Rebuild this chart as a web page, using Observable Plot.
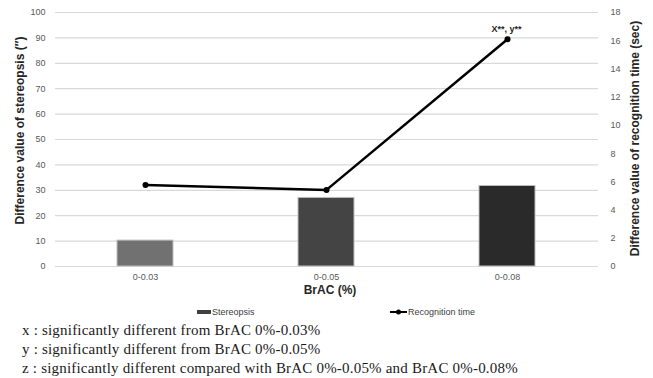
<!DOCTYPE html>
<html>
<head>
<meta charset="utf-8">
<script src="https://cdn.jsdelivr.net/npm/d3@7"></script>
<script src="https://cdn.jsdelivr.net/npm/@observablehq/plot@0.6"></script>
<style>
  body { margin: 0; background: #fff; }
  #wrap { position: relative; width: 653px; height: 378px; background: #fff; overflow: hidden; }
  #chart { position: absolute; left: 0; top: 0; }
  .leg { position: absolute; font-family: "Liberation Sans", Arial, sans-serif; font-size: 9px; color: #404040; line-height: 1; white-space: nowrap; }
  .note { position: absolute; left: 22px; font-family: "Liberation Serif", "DejaVu Serif", serif; font-size: 15px; letter-spacing: 0.2px; color: #1a1a1a; white-space: nowrap; line-height: 1; }
</style>
</head>
<body>
<div id="wrap">
  <div id="chart"></div>
  <div class="leg" style="left:197px; top:307px;">
    <svg width="15" height="9" style="vertical-align:top"><rect x="0" y="3" width="14" height="4" fill="#404040"></rect></svg><span id="leg1" style="position:relative; top:1px;"></span>
  </div>
  <div class="leg" style="left:390px; top:307px;">
    <svg width="18" height="9" style="vertical-align:top"><line x1="0" y1="5" x2="17" y2="5" stroke="#000" stroke-width="2"></line><circle cx="8.5" cy="5" r="2.5" fill="#000"></circle></svg><span id="leg2" style="position:relative; top:1px;"></span>
  </div>
  <div class="note" id="n1" style="top:323px;"></div>
  <div class="note" id="n2" style="top:342px;"></div>
  <div class="note" id="n3" style="top:361px;"></div>
</div>
<script>
const categories = ["0-0.03", "0-0.05", "0-0.08"];
const stereopsis = [10.2, 27.0, 31.7];           // left axis (″)
const recognitionTime = [5.77, 5.43, 16.1];      // right axis (sec)
const barColors = ["#717171", "#444444", "#2a2a2a"];
const leftTicks = [0, 10, 20, 30, 40, 50, 60, 70, 80, 90, 100];
const rightTicks = [0, 2, 4, 6, 8, 10, 12, 14, 16, 18];
const leftMax = 100;
const rightMax = 18;
const seriesNames = ["Stereopsis", "Recognition time"];
const annotationText = "X**, y**";
const annotationIndex = 2;
const leftTitle = "Difference value of stereopsis (″)";
const rightTitle = "Difference value of recognition time (sec)";
const xTitle = "BrAC (%)";
const notes = [
  "x : significantly different from BrAC 0%-0.03%",
  "y : significantly different from BrAC 0%-0.05%",
  "z : significantly different compared with BrAC 0%-0.05% and BrAC 0%-0.08%"
];

const toLeft = v => v * leftMax / rightMax;
const data = categories.map((c, i) => ({c, s: stereopsis[i], r: recognitionTime[i], color: barColors[i]}));

const chart = Plot.plot({
  width: 653,
  height: 300,
  marginLeft: 55,
  marginRight: 55,
  marginTop: 12,
  marginBottom: 34,
  style: {fontFamily: "Liberation Sans, Arial, sans-serif", fontSize: "9px", color: "#595959", background: "white", overflow: "visible"},
  x: {domain: categories, paddingInner: 0.69, paddingOuter: 0.345, label: null},
  y: {domain: [0, leftMax], label: null},
  color: {type: "identity"},
  marks: [
    Plot.gridY(leftTicks, {stroke: "#d9d9d9", strokeOpacity: 1, strokeWidth: 1.2}),
    Plot.axisY(leftTicks, {anchor: "left", tickSize: 0, tickPadding: 10, label: null, fill: "#595959"}),
    Plot.axisY(rightTicks.map(toLeft), {anchor: "right", tickSize: 0, tickPadding: 12, label: null, fill: "#595959",
      tickFormat: d => String(Math.round(d * rightMax / leftMax))}),
    Plot.axisX({tickSize: 0, tickPadding: 7, label: null, fill: "#595959"}),
    Plot.barY(data, {x: "c", y: "s", fill: "color", stroke: "#bdbdbd", strokeWidth: 1}),
    Plot.line(data, {x: "c", y: d => toLeft(d.r), stroke: "#000", strokeWidth: 2.5}),
    Plot.dot(data, {x: "c", y: d => toLeft(d.r), r: 3, fill: "#000"}),
    Plot.text([data[annotationIndex]], {x: "c", y: d => toLeft(d.r), text: () => annotationText, dy: -10, dx: -1,
      fontWeight: "bold", fontSize: 9, fill: "#262626"}),
    Plot.text([leftTitle], {frameAnchor: "left", textAnchor: "middle", dx: -35, dy: -9, rotate: -90, fontWeight: "bold", fontSize: 12, fill: "#262626"}),
    Plot.text([rightTitle], {frameAnchor: "right", textAnchor: "middle", dx: 37, dy: -1, rotate: -90, fontWeight: "bold", fontSize: 12, fill: "#262626"}),
    Plot.text([xTitle], {frameAnchor: "bottom", dx: 3, dy: 27, fontWeight: "bold", fontSize: 12, fill: "#262626"})
  ]
});
document.getElementById("chart").appendChild(chart);
document.getElementById("leg1").textContent = seriesNames[0];
document.getElementById("leg2").textContent = seriesNames[1];
notes.forEach((t, i) => document.getElementById("n" + (i + 1)).textContent = t);
</script>
</body>
</html>
